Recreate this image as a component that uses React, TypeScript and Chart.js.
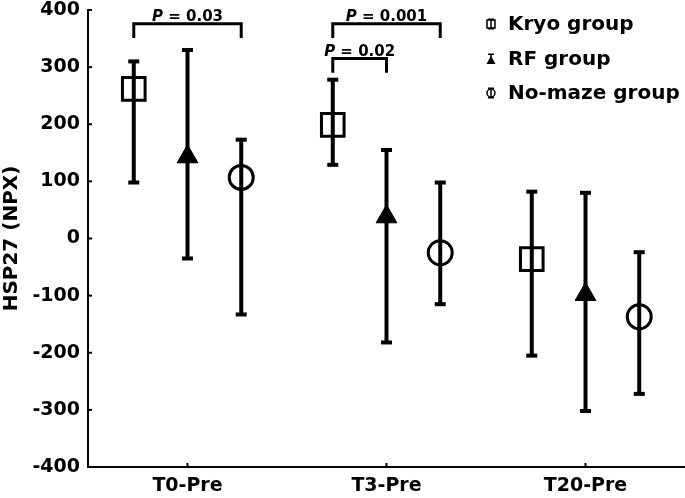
import React, { useEffect, useRef } from "react";
import { Chart, registerables } from "chart.js";

Chart.register(...registerables);

const categories = ["T0-Pre", "T3-Pre", "T20-Pre"];
const groups = ["Kryo group", "RF group", "No-maze group"];
const groupOffsets = [-0.27, 0, 0.27];

const kryoMean = [262, 199, -36];
const kryoLow = [98, 129, -205];
const kryoHigh = [310, 278, 82];

const rfMean = [143, 38, -98];
const rfLow = [-35, -182, -302];
const rfHigh = [330, 155, 80];

const nomazeMean = [107, -25, -137];
const nomazeLow = [-133, -115, -272];
const nomazeHigh = [173, 98, -24];

const yTicks = [-400, -300, -200, -100, 0, 100, 200, 300, 400];

// significance brackets: category, group index from, group index to, bracket level, tick drop, label
const sigCategory = [0, 1, 1];
const sigFrom = [0, 0, 0];
const sigTo = [2, 2, 1];
const sigLevel = [376, 376, 315];
const sigDrop = [25, 25, 25];
const sigLabel = ["0.03", "0.001", "0.02"];

const FONT = "'DejaVu Sans', 'Liberation Sans', Arial, sans-serif";

const means = [kryoMean, rfMean, nomazeMean];
const lows = [kryoLow, rfLow, nomazeLow];
const highs = [kryoHigh, rfHigh, nomazeHigh];

const zeroPad = (scale: any) => {
  scale.paddingLeft = 0;
  scale.paddingRight = 0;
  scale.paddingTop = 0;
  scale.paddingBottom = 0;
};

const customPlugin = {
  id: "custom",
  afterDatasetsDraw(chart: any) {
    const ctx = chart.ctx;
    const xs = chart.scales.x;
    const ys = chart.scales.y;
    ctx.save();
    ctx.strokeStyle = "#000";
    ctx.fillStyle = "#000";
    for (let g = 0; g < 3; g++) {
      for (let c = 0; c < categories.length; c++) {
        const x = xs.getPixelForValue(c + groupOffsets[g]);
        const yl = ys.getPixelForValue(lows[g][c]);
        const yh = ys.getPixelForValue(highs[g][c]);
        ctx.lineWidth = 4;
        ctx.beginPath();
        ctx.moveTo(x, yl);
        ctx.lineTo(x, yh);
        ctx.stroke();
        ctx.fillRect(x - 5.5, yl - 2, 11, 4);
        ctx.fillRect(x - 5.5, yh - 2, 11, 4);
      }
    }
    for (let i = 0; i < sigCategory.length; i++) {
      const x1 = xs.getPixelForValue(sigCategory[i] + groupOffsets[sigFrom[i]]);
      const x2 = xs.getPixelForValue(sigCategory[i] + groupOffsets[sigTo[i]]);
      const yb = ys.getPixelForValue(sigLevel[i]);
      const yd = ys.getPixelForValue(sigLevel[i] - sigDrop[i]);
      ctx.lineWidth = 3;
      ctx.beginPath();
      ctx.moveTo(x1, yd);
      ctx.lineTo(x1, yb);
      ctx.lineTo(x2, yb);
      ctx.lineTo(x2, yd);
      ctx.stroke();
      const p = "P";
      const rest = " = " + sigLabel[i];
      ctx.font = `italic bold 15px ${FONT}`;
      const wp = ctx.measureText(p).width;
      ctx.font = `bold 15px ${FONT}`;
      const wr = ctx.measureText(rest).width;
      const cx = (x1 + x2) / 2;
      const sx = cx - (wp + wr) / 2;
      ctx.textBaseline = "alphabetic";
      ctx.textAlign = "left";
      ctx.font = `italic bold 15px ${FONT}`;
      ctx.fillText(p, sx, yb - 3);
      ctx.font = `bold 15px ${FONT}`;
      ctx.fillText(rest, sx + wp, yb - 3);
    }
    ctx.restore();
  },
  afterDraw(chart: any) {
    const ctx = chart.ctx;
    const xs = chart.scales.x;
    const ys = chart.scales.y;
    const area = chart.chartArea;
    ctx.save();
    ctx.strokeStyle = "#000";
    ctx.fillStyle = "#000";
    ctx.lineWidth = 2;
    for (const v of yTicks) {
      const y = ys.getPixelForValue(v);
      ctx.beginPath();
      ctx.moveTo(area.left, y);
      ctx.lineTo(area.left + 4, y);
      ctx.stroke();
    }
    for (let c = 0; c < categories.length; c++) {
      const x = xs.getPixelForValue(c);
      ctx.beginPath();
      ctx.moveTo(x, area.bottom);
      ctx.lineTo(x, area.bottom - 4);
      ctx.stroke();
    }
    const lx = 491;
    const rows = [24, 59, 93];
    ctx.font = `bold 20px ${FONT}`;
    ctx.textBaseline = "middle";
    ctx.textAlign = "left";
    for (let g = 0; g < groups.length; g++) {
      const y = rows[g];
      ctx.lineWidth = 1.5;
      ctx.beginPath();
      ctx.moveTo(lx, y - 5);
      ctx.lineTo(lx, y + 5);
      ctx.stroke();
      ctx.fillRect(lx - 3, y - 5.5, 6, 1.5);
      if (g !== 1) ctx.fillRect(lx - 3, y + 4, 6, 1.5);
      if (g === 0) {
        ctx.strokeRect(lx - 4, y - 4, 8, 8);
      } else if (g === 1) {
        ctx.beginPath();
        ctx.moveTo(lx, y - 3);
        ctx.lineTo(lx + 4.5, y + 5);
        ctx.lineTo(lx - 4.5, y + 5);
        ctx.closePath();
        ctx.fill();
      } else {
        ctx.beginPath();
        ctx.arc(lx, y, 4, 0, Math.PI * 2);
        ctx.stroke();
      }
      ctx.fillText(groups[g], 508, y + 1);
    }
    ctx.restore();
  },
};

export default function App() {
  const ref = useRef<HTMLCanvasElement>(null);
  useEffect(() => {
    if (!ref.current) return;
    const mk = (g: number) =>
      categories.map((_, c) => ({ x: c + groupOffsets[g], y: means[g][c] }));
    const chart = new Chart(ref.current, {
      type: "scatter",
      data: {
        datasets: [
          {
            label: groups[0],
            data: mk(0),
            pointStyle: "rect",
            pointRadius: 16,
            backgroundColor: "rgba(0,0,0,0)",
            borderColor: "#000",
            borderWidth: 3,
          },
          {
            label: groups[1],
            data: mk(1),
            pointStyle: "triangle",
            pointRadius: 12,
            backgroundColor: "#000",
            borderColor: "#000",
            borderWidth: 1,
          },
          {
            label: groups[2],
            data: mk(2),
            pointStyle: "circle",
            pointRadius: 12,
            backgroundColor: "rgba(0,0,0,0)",
            borderColor: "#000",
            borderWidth: 3,
          },
        ],
      },
      options: {
        animation: false,
        responsive: true,
        maintainAspectRatio: false,
        layout: { autoPadding: false, padding: { top: 10, right: 0, left: 0, bottom: 0 } },
        plugins: {
          legend: { display: false },
          tooltip: { enabled: false },
        },
        scales: {
          x: {
            type: "linear",
            min: -0.5,
            max: 2.5,
            afterBuildTicks: (scale: any) => {
              scale.ticks = categories.map((_, i) => ({ value: i }));
            },
            afterFit: (scale: any) => {
              scale.height = 31;
              zeroPad(scale);
            },
            grid: { display: false, drawTicks: false },
            border: { display: true, color: "#000", width: 2 },
            ticks: {
              color: "#000",
              font: { family: FONT, size: 19, weight: "bold" },
              padding: 8,
              maxRotation: 0,
              callback: (v: any) => categories[Math.round(Number(v))] ?? "",
            },
          },
          y: {
            min: -400,
            max: 400,
            afterBuildTicks: (scale: any) => {
              scale.ticks = yTicks.map((v) => ({ value: v }));
            },
            afterFit: (scale: any) => {
              scale.width = 88;
              zeroPad(scale);
            },
            grid: { display: false, drawTicks: false },
            border: { display: true, color: "#000", width: 2 },
            ticks: {
              color: "#000",
              font: { family: FONT, size: 19, weight: "bold" },
              padding: 8,
            },
            title: {
              display: true,
              text: "HSP27 (NPX)",
              color: "#000",
              font: { family: FONT, size: 20, weight: "bold" },
              padding: { top: 0, bottom: 0 },
            },
          },
        },
      },
      plugins: [customPlugin],
    });
    return () => chart.destroy();
  }, []);
  return (
    <div style={{ position: "absolute", left: 0, top: 0, width: 685, height: 498, background: "#fff" }}>
      <canvas ref={ref} />
    </div>
  );
}
